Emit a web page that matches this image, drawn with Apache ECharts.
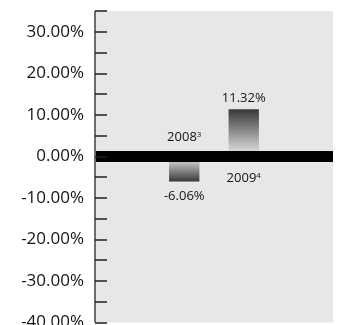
<!DOCTYPE html>
<html>
<head>
<meta charset="utf-8">
<script src="https://cdn.jsdelivr.net/npm/echarts@6/dist/echarts.min.js"></script>
<style>
  html, body { margin: 0; padding: 0; background: #fff; }
  #chart { width: 338px; height: 325px; }
</style>
</head>
<body>
<div id="chart"></div>
<script>
// Annual returns with footnote markers; outer slots are empty padding columns
const slots = ['', '2008', '2009', ''];
const notes = ['', '3', '4', ''];
const returns = [null, -6.06, 11.32, null];
const yMin = -40, yMax = 35, yStep = 5;

const FONT = 'Open Sans';
const TEXT = '#141414';

function barColor(v) {
  // dark at the far end of the bar, fading toward the zero line
  const dark = '#383838', light = '#ececec';
  return new echarts.graphic.LinearGradient(0, 0, 0, 1, v >= 0
    ? [{ offset: 0, color: dark }, { offset: 1, color: light }]
    : [{ offset: 0, color: light }, { offset: 1, color: dark }]);
}

const barData = returns.map(v => v === null ? null : {
  value: v,
  itemStyle: { color: barColor(v) },
  label: { position: v >= 0 ? 'top' : 'bottom', distance: v >= 0 ? 5 : 8 }
});

// year captions sit on the zero line, opposite side from the bar
const yearData = slots.map((s, i) => returns[i] === null ? null : {
  value: 0,
  label: {
    position: returns[i] >= 0 ? 'bottom' : 'top',
    distance: returns[i] >= 0 ? 15 : 12
  }
});

const chart = echarts.init(document.getElementById('chart'), null, { renderer: 'canvas' });
chart.setOption({
  animation: false,
  grid: {
    left: 95, right: 5, top: 11, bottom: 2.5,
    containLabel: false, outerBoundsMode: 'none',
    show: true, backgroundColor: '#e6e7e8', borderWidth: 0
  },
  xAxis: {
    type: 'category',
    data: slots,
    z: 5,
    axisLine: { onZero: true, lineStyle: { color: '#000', width: 11, cap: 'butt' } },
    axisTick: { show: false },
    axisLabel: { show: false },
    splitLine: { show: false }
  },
  yAxis: {
    type: 'value',
    min: yMin, max: yMax, interval: yStep,
    z: 6,
    axisLine: { show: true, lineStyle: { color: '#6d6e71', width: 2, cap: 'butt' } },
    axisTick: { show: true, inside: true, length: 12, lineStyle: { color: '#231f20', width: 1.5 } },
    splitLine: { show: false },
    axisLabel: {
      margin: 11,
      fontFamily: FONT, fontSize: 17, color: TEXT,
      formatter: v => (v % 10 === 0 ? v.toFixed(2) + '%' : '')
    }
  },
  series: [
    {
      type: 'bar',
      data: barData,
      barWidth: '51%',
      z: 2,
      label: {
        show: true,
        fontFamily: FONT, fontSize: 13, color: TEXT,
        formatter: p => p.value.toFixed(2) + '%'
      }
    },
    {
      type: 'scatter',
      data: yearData,
      symbolSize: 0,
      z: 6,
      itemStyle: { opacity: 1 },
      label: {
        show: true,
        fontFamily: FONT, fontSize: 13, color: TEXT,
        formatter: p => slots[p.dataIndex] + '{sup|' + notes[p.dataIndex] + '}',
        rich: {
          sup: { fontFamily: FONT, fontSize: 8, color: TEXT, verticalAlign: 'top', padding: [0, 0, 6, 0] }
        }
      }
    }
  ]
});
</script>
</body>
</html>
